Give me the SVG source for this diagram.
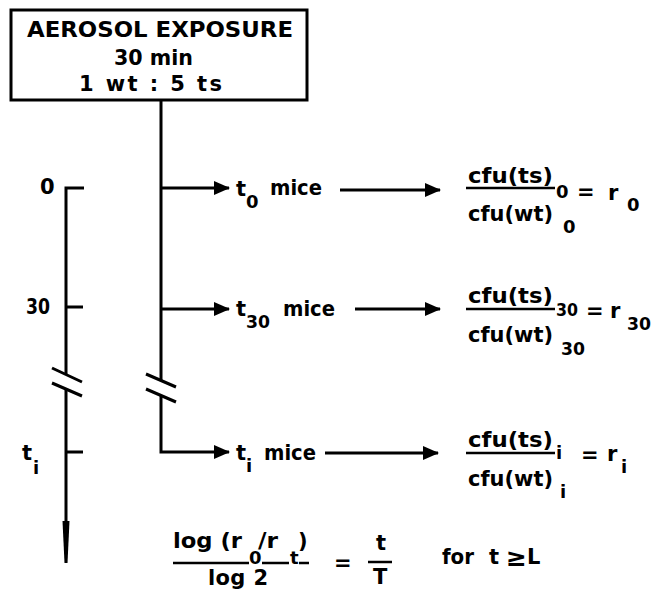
<svg xmlns="http://www.w3.org/2000/svg" width="663" height="594" viewBox="0 0 663 594">
<defs>
<style>
text{font-family:"DejaVu Sans","Liberation Sans",sans-serif;font-weight:bold;fill:#000;font-size:21px}
.sub{font-size:18px}
.ln{stroke:#000;stroke-width:3;fill:none;stroke-linecap:butt}
.fl{stroke:#000;stroke-width:2.5}
</style>
<marker id="ah" viewBox="0 0 16 14" refX="15" refY="7" markerWidth="16" markerHeight="14" markerUnits="userSpaceOnUse" orient="auto"><path d="M0,0 L16,7 L0,14 Z" fill="#000"/></marker>
</defs>
<rect width="663" height="594" fill="#fff"/>

<g id="exposure">
<rect x="11" y="10" width="296" height="90" fill="#fff" stroke="#000" stroke-width="3"/>
<text x="27" y="37" textLength="266" lengthAdjust="spacingAndGlyphs">AEROSOL EXPOSURE</text>
<text x="114" y="65" textLength="79" lengthAdjust="spacingAndGlyphs">30 min</text>
<text x="79" y="91" textLength="143" lengthAdjust="spacing">1 wt : 5 ts</text>
</g>

<g id="timeline">
<path class="ln" d="M84,188 H66 V375 M66,389 V523 M66,307 H83 M66,452 H83"/>
<path class="ln" d="M52,368 L82,382 M52,383 L82,396"/>
<polygon points="62.5,521 69.5,521 67.5,563 64.5,563" fill="#000"/>
<text x="40" y="194">0</text>
<text x="26" y="314" textLength="24" lengthAdjust="spacingAndGlyphs">30</text>
<text x="22" y="460">t</text>
<text class="sub" x="33" y="474">i</text>
</g>

<g id="connectors">
<path class="ln" d="M161,100 V380 M161,395 V452 H229" marker-end="url(#ah)"/>
<path class="ln" d="M146,374 L176,387 M146,389 L176,402"/>
<path class="ln" d="M161,188 H229" marker-end="url(#ah)"/>
<path class="ln" d="M161,309 H229" marker-end="url(#ah)"/>
<path class="ln" d="M340,190 H440" marker-end="url(#ah)"/>
<path class="ln" d="M355,309 H440" marker-end="url(#ah)"/>
<path class="ln" d="M325,453 H438" marker-end="url(#ah)"/>
</g>

<g id="t0-mice">
<text x="236" y="196">t</text>
<text class="sub" x="246" y="208">0</text>
<text x="270" y="195" textLength="52" lengthAdjust="spacingAndGlyphs">mice</text>
</g>
<g id="t30-mice">
<text x="236" y="316">t</text>
<text class="sub" x="246" y="328" textLength="24" lengthAdjust="spacingAndGlyphs">30</text>
<text x="283" y="316" textLength="52" lengthAdjust="spacingAndGlyphs">mice</text>
</g>
<g id="ti-mice">
<text x="236" y="460">t</text>
<text class="sub" x="246" y="472">i</text>
<text x="264" y="460" textLength="52" lengthAdjust="spacingAndGlyphs">mice</text>
</g>

<g id="ratio-0">
<text x="468" y="183" textLength="85" lengthAdjust="spacingAndGlyphs">cfu(ts)</text>
<line class="fl" x1="466" y1="188" x2="555" y2="188"/>
<text class="sub" x="556" y="198">0</text>
<text x="577" y="199">=</text>
<text x="608" y="200">r</text>
<text class="sub" x="627" y="211">0</text>
<text x="468" y="221" textLength="85" lengthAdjust="spacingAndGlyphs">cfu(wt)</text>
<text class="sub" x="563" y="233">0</text>
</g>
<g id="ratio-30">
<text x="468" y="303" textLength="85" lengthAdjust="spacingAndGlyphs">cfu(ts)</text>
<line class="fl" x1="466" y1="309" x2="555" y2="309"/>
<text class="sub" x="556" y="316" textLength="22" lengthAdjust="spacingAndGlyphs">30</text>
<text x="586" y="318">=</text>
<text x="610" y="318">r</text>
<text class="sub" x="627" y="330" textLength="24" lengthAdjust="spacingAndGlyphs">30</text>
<text x="468" y="342" textLength="85" lengthAdjust="spacingAndGlyphs">cfu(wt)</text>
<text class="sub" x="561" y="355" textLength="24" lengthAdjust="spacingAndGlyphs">30</text>
</g>
<g id="ratio-i">
<text x="468" y="447" textLength="85" lengthAdjust="spacingAndGlyphs">cfu(ts)</text>
<line class="fl" x1="466" y1="453" x2="555" y2="453"/>
<text class="sub" x="556" y="459">i</text>
<text x="581" y="462">=</text>
<text x="607" y="461">r</text>
<text class="sub" x="621" y="473">i</text>
<text x="468" y="486" textLength="85" lengthAdjust="spacingAndGlyphs">cfu(wt)</text>
<text class="sub" x="560" y="498">i</text>
</g>

<g id="half-life">
<text x="173" y="548" textLength="69" lengthAdjust="spacingAndGlyphs">log (r</text>
<text class="sub" x="249" y="564">0</text>
<text x="258" y="548" textLength="20" lengthAdjust="spacingAndGlyphs">/r</text>
<text class="sub" x="290" y="564">t</text>
<text x="298" y="548">)</text>
<path class="fl" d="M173,563 H249 M262,563 H289 M299,563 H309"/>
<text x="208" y="585" textLength="60" lengthAdjust="spacing">log 2</text>
<text x="334" y="570">=</text>
<text x="376" y="550">t</text>
<line class="fl" x1="368" y1="562" x2="392" y2="562"/>
<text x="373" y="584">T</text>
<text x="442" y="564" textLength="32" lengthAdjust="spacingAndGlyphs">for</text>
<text x="489" y="564">t</text>
<text x="506" y="566" style="font-size:25px">≥</text>
<text x="527" y="564">L</text>
</g>
</svg>
